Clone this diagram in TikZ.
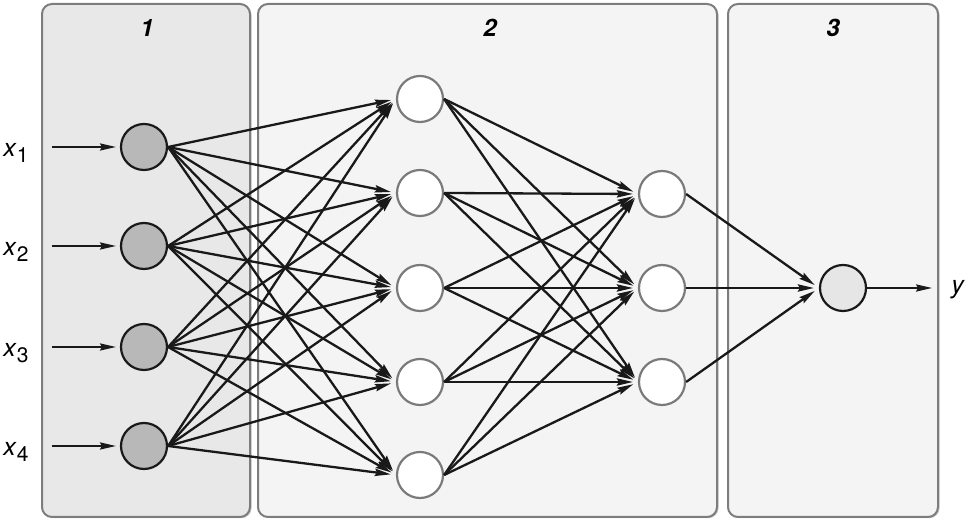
\documentclass[tikz,border=0pt]{standalone}
\usepackage{fontspec}
\setsansfont{TeX Gyre Heros}
\usetikzlibrary{arrows.meta, positioning, shadows}
\definecolor{panelone}{RGB}{232, 232, 232}
\definecolor{paneltwo}{RGB}{244, 244, 244}
\definecolor{panelborder}{RGB}{125, 125, 125}
\definecolor{inputfill}{RGB}{184, 184, 184}
\definecolor{hiddenborder}{RGB}{122, 122, 122}
\definecolor{outputfill}{RGB}{230, 230, 230}
\newcommand{\invar}[1]{\textit{x}\raisebox{-0.5ex}{\fontsize{10.5}{11}\selectfont #1}}

\begin{document}
\begin{tikzpicture}[
    x=0.5pt, y=-0.5pt,
    font=\sffamily,
    % Styles
    panelbox/.style={
        rectangle,
        rounded corners=5pt,
        draw=panelborder,
        line width=1pt,
        minimum height=256.5pt,
        drop shadow={shadow xshift=0.8pt, shadow yshift=-0.6pt, opacity=0.4}
    },
    panellabel/.style={
        font=\sffamily\bfseries\itshape\fontsize{12}{14}\selectfont
    },
    neuron/.style={
        circle,
        minimum size=23pt,
        inner sep=0pt,
        line width=1.1pt
    },
    inneuron/.style={neuron, draw=black!90, fill=inputfill},
    hidneuron/.style={neuron, draw=hiddenborder, fill=white},
    outneuron/.style={neuron, draw=black!90, fill=outputfill},
    varlabel/.style={
        font=\sffamily\fontsize{12.5}{14}\selectfont,
        inner sep=0pt
    },
    link/.style={
        -{Stealth[length=8pt, width=3.6pt, inset=1pt]},
        line width=1.15pt,
        color=black!90,
        shorten >=2.5pt
    },
    ioarrow/.style={
        -{Stealth[length=8pt, width=3.6pt, inset=1pt]},
        line width=0.75pt,
        color=black!90
    }
]

\useasboundingbox (0,0) rectangle (968,522);

% --- Panels ---
\node (panel1) [panelbox, fill=panelone, minimum width=104pt] at (146,260.5) {};
\node (panel2) [panelbox, fill=paneltwo, minimum width=229.5pt] at (487.5,260.5) {};
\node (panel3) [panelbox, fill=paneltwo, minimum width=105pt] at (833,260.5) {};

\node (lab1) [panellabel] at (147,28) {1};
\node (lab2) [panellabel] at (490,28) {2};
\node (lab3) [panellabel] at (833,28) {3};

% --- Layer 1 (inputs) ---
\node (in1) [inneuron] at (144,147) {};
\node (in2) [inneuron] at (144,246) {};
\node (in3) [inneuron] at (144,347) {};
\node (in4) [inneuron] at (144,446) {};

% --- Layer 2 (two hidden columns) ---
\node (ha1) [hidneuron] at (420,99) {};
\node (ha2) [hidneuron] at (420,193) {};
\node (ha3) [hidneuron] at (420,288) {};
\node (ha4) [hidneuron] at (420,382) {};
\node (ha5) [hidneuron] at (420,475) {};

\node (hb1) [hidneuron] at (662,194) {};
\node (hb2) [hidneuron] at (662,288) {};
\node (hb3) [hidneuron] at (662,382) {};

% --- Layer 3 (output) ---
\node (out) [outneuron] at (843,288) {};

% --- Input and output variables ---
\node (lx1) [varlabel] at (16,153) {\invar{1}};
\node (lx2) [varlabel] at (16,252) {\invar{2}};
\node (lx3) [varlabel] at (16,353) {\invar{3}};
\node (lx4) [varlabel] at (16,452) {\invar{4}};
\node (ly) [varlabel] at (958,290) {\textit{y}};

\coordinate (src1) at (52,147);
\coordinate (src2) at (52,246);
\coordinate (src3) at (52,347);
\coordinate (src4) at (52,446);
\coordinate (sink) at (932,288);

% --- Connections ---
\foreach \i in {1,...,4}
    \draw [ioarrow, shorten >=2pt] (src\i) -- (in\i);

\foreach \i in {1,...,4}
    \foreach \j in {1,...,5}
        \draw [link] (in\i.east) -- (ha\j.west);

\foreach \i in {1,...,5}
    \foreach \j in {1,...,3}
        \draw [link] (ha\i.east) -- (hb\j.west);

\foreach \j in {1,...,3}
    \draw [link] (hb\j.east) -- (out.west);

\draw [ioarrow] (out) -- (sink);

\end{tikzpicture}
\end{document}
